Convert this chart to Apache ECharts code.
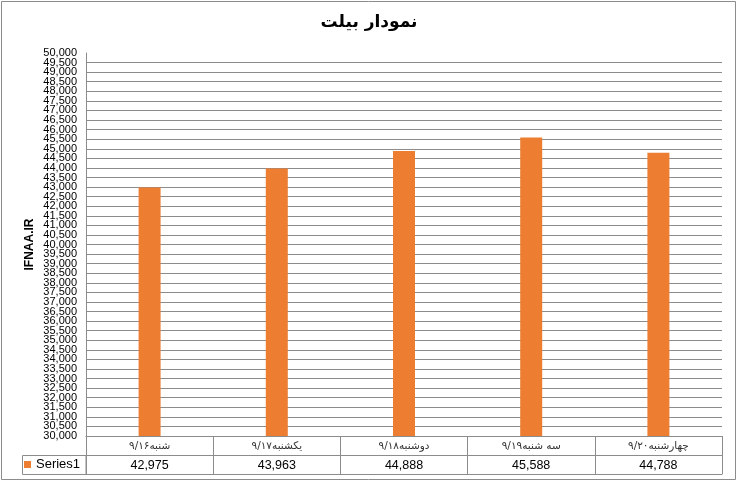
<!DOCTYPE html>
<html>
<head>
<meta charset="utf-8">
<script src="https://cdn.jsdelivr.net/npm/echarts@6/dist/echarts.min.js"></script>
<style>
  html, body { margin: 0; padding: 0; background: #fff; }
  #chart { width: 738px; height: 482px; }
</style>
</head>
<body>
<div id="chart"></div>
<script>
// داده‌ها
const categories = ['شنبه۹/۱۶', 'یکشنبه۹/۱۷', 'دوشنبه۹/۱۸', 'سه شنبه۹/۱۹', 'چهارشنبه۹/۲۰'];
const series1 = [42975, 43963, 44888, 45588, 44788];
const seriesName = 'Series1';
const yMin = 30000;
const yMax = 50000;
const yStep = 500;

const gridColor = '#8c8c8c';
const fmt = v => Number(v).toLocaleString('en-US');
const yLabelStyle = { margin: 9, fontFamily: 'Liberation Sans', fontSize: 11, color: '#000', formatter: fmt };

const chart = echarts.init(document.getElementById('chart'));

chart.setOption({
  animation: false,
  title: {
    text: 'نمودار بیلت',
    left: 'center',
    top: 9,
    textStyle: { fontFamily: 'DejaVu Sans', fontSize: 17, fontWeight: 'bold', color: '#000' }
  },
  legend: {
    data: [seriesName],
    left: 24,
    top: 458,
    padding: 0,
    icon: 'rect',
    itemWidth: 7,
    itemHeight: 7,
    itemGap: 4,
    textStyle: { fontFamily: 'Liberation Sans', fontSize: 13, color: '#000' }
  },
  grid: { left: 86, right: 16, top: 53, bottom: 46, outerBoundsMode: 'none' },
  xAxis: [
    {
      type: 'category',
      data: categories,
      axisLine: { lineStyle: { color: gridColor, width: 1 } },
      axisTick: { show: true, length: 38, lineStyle: { color: gridColor } },
      axisLabel: { margin: 5, fontFamily: 'DejaVu Sans', fontSize: 10.5, color: '#333', interval: 0 }
    },
    {
      type: 'category',
      data: categories,
      position: 'bottom',
      offset: 19,
      axisLine: { show: true, lineStyle: { color: gridColor, width: 1 } },
      axisTick: { show: false },
      axisLabel: {
        margin: 4, fontFamily: 'Liberation Sans', fontSize: 12.5, color: '#000', interval: 0,
        formatter: (v, i) => fmt(series1[i])
      }
    },
    {
      type: 'category',
      data: categories,
      position: 'bottom',
      offset: 38,
      axisLine: { show: true, lineStyle: { color: gridColor, width: 1 } },
      axisTick: { show: false },
      axisLabel: { show: false }
    }
  ],
  yAxis: [
    {
      type: 'value',
      min: yMin,
      max: yMax,
      interval: yStep,
      name: 'IFNAA.IR',
      nameLocation: 'middle',
      nameGap: 50,
      nameMoveOverlap: false,
      nameTextStyle: { fontFamily: 'Liberation Sans', fontSize: 12, fontWeight: 'bold', color: '#000' },
      axisLine: { show: true, lineStyle: { color: gridColor } },
      axisTick: { show: false },
      axisLabel: Object.assign({ showMinLabel: false, showMaxLabel: false }, yLabelStyle),
      splitLine: { show: true, showMaxLine: false, lineStyle: { color: gridColor, width: 1 } }
    },
    {
      // برچسب‌های ابتدا و انتهای محور
      type: 'value',
      position: 'left',
      min: yMin,
      max: yMax,
      interval: yMax - yMin,
      axisLine: { show: false },
      axisTick: { show: false },
      splitLine: { show: false },
      axisLabel: Object.assign({ showMinLabel: true, showMaxLabel: true }, yLabelStyle)
    }
  ],
  series: [
    {
      name: seriesName,
      type: 'bar',
      data: series1,
      barWidth: 22,
      itemStyle: { color: '#ED7D31' }
    }
  ],
  graphic: [
    // کادر بیرونی
    {
      type: 'rect',
      shape: { x: 1.5, y: 1.5, width: 734, height: 478 },
      style: { fill: 'none', stroke: gridColor, lineWidth: 1 },
      silent: true
    },
    // خانه راهنما در جدول داده
    {
      type: 'rect',
      shape: { x: 22.5, y: 455.5, width: 63.5, height: 19 },
      style: { fill: 'none', stroke: gridColor, lineWidth: 1 },
      silent: true
    }
  ]
});
</script>
</body>
</html>
